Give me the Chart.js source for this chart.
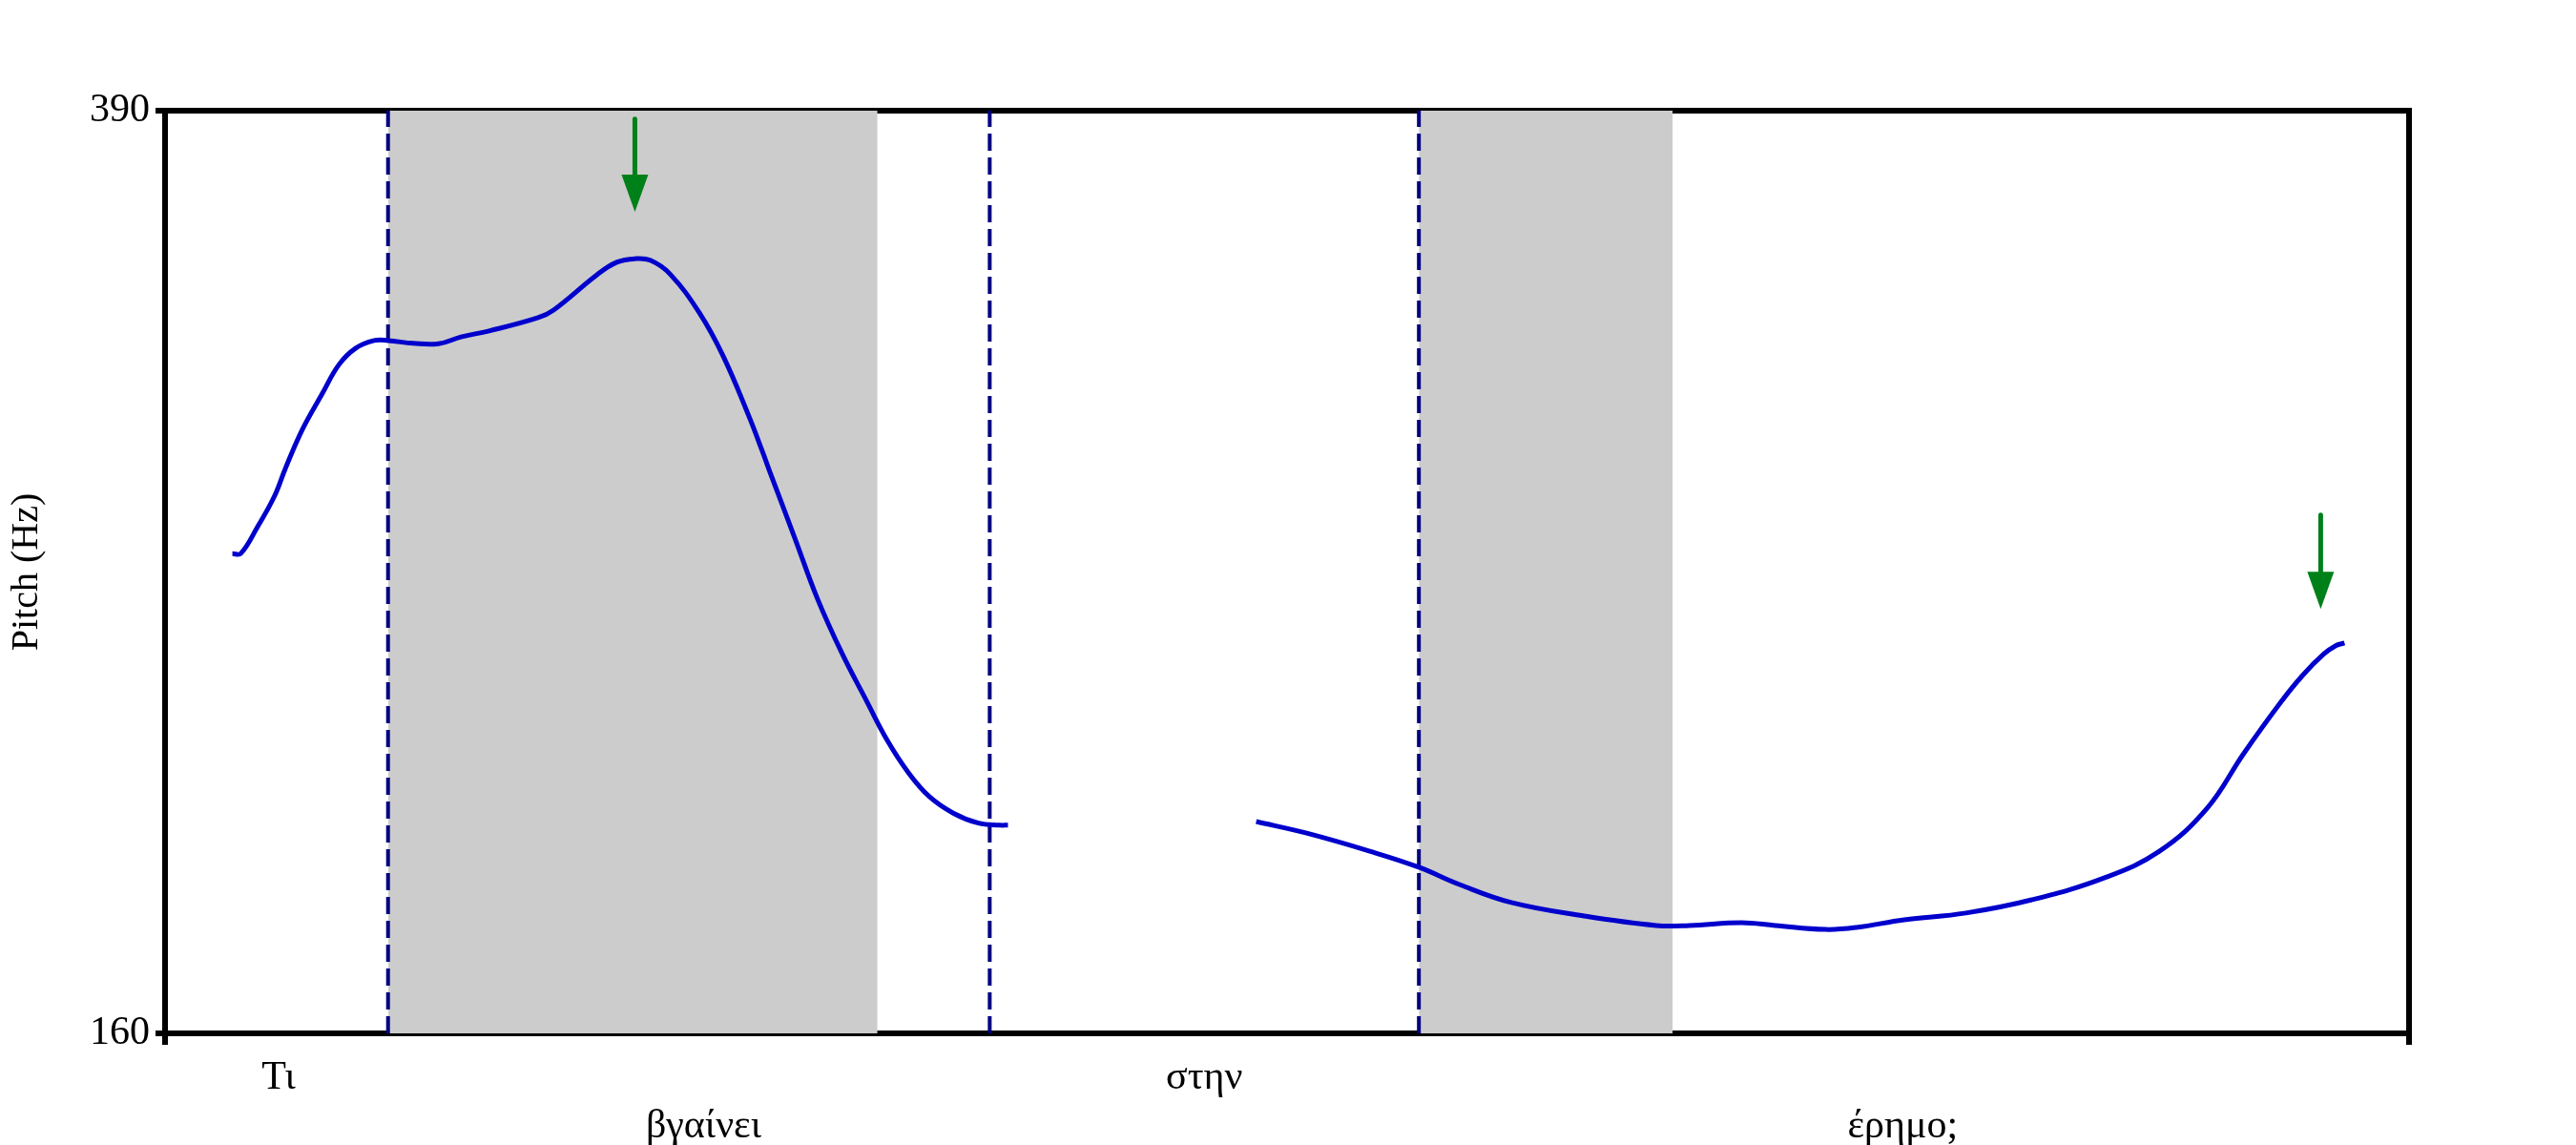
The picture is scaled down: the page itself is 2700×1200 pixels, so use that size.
<!DOCTYPE html>
<html>
<head>
<meta charset="utf-8">
<script src="https://cdn.jsdelivr.net/npm/chart.js@4"></script>
<style>
  html, body { margin: 0; padding: 0; background: #ffffff; }
  canvas { display: block; }
</style>
</head>
<body>
<canvas id="c" width="2700" height="1200"></canvas>
<script>
// ---- data (time in seconds, pitch in Hz) ----
const xMin = 0, xMax = 1.6;
const yMin = 160, yMax = 390;
const yTicks = [160, 390];

const words = ['Τι', 'βγαίνει', 'στην', 'έρημο;'];
const wordT = [0.081, 0.384, 0.741, 1.239];
const wordRow = [0, 1, 0, 1];

const boundaryT = [0.159, 0.588, 0.894];
const shadeStart = [0.159, 0.894];
const shadeEnd = [0.508, 1.075];

const pitch1T = [0.048, 0.054, 0.066, 0.078, 0.086, 0.098, 0.112, 0.124, 0.136, 0.149, 0.159, 0.177, 0.195, 0.211, 0.231, 0.266, 0.277, 0.308, 0.322, 0.335, 0.346, 0.360, 0.381, 0.398, 0.416, 0.426, 0.431, 0.449, 0.465, 0.483, 0.500, 0.515, 0.530, 0.545, 0.562, 0.580, 0.595, 0.601];
const pitch1Hz = [279.6, 279.6, 286.3, 293.9, 301.0, 310.6, 319.4, 326.7, 330.8, 332.7, 332.7, 332.0, 331.9, 333.6, 335.1, 338.4, 340.3, 349.1, 352.2, 353.1, 352.7, 349.3, 339.6, 328.8, 314.1, 305.0, 300.2, 283.5, 268.5, 254.5, 243.0, 233.0, 225.0, 219.0, 214.9, 212.4, 211.9, 211.9];

const pitch2T = [0.778, 0.814, 0.859, 0.894, 0.923, 0.960, 1.011, 1.063, 1.087, 1.124, 1.148, 1.184, 1.206, 1.240, 1.284, 1.331, 1.383, 1.422, 1.456, 1.482, 1.508, 1.524, 1.539, 1.548, 1.554];
const pitch2Hz = [212.8, 209.9, 205.4, 201.4, 197.1, 192.6, 189.3, 186.9, 186.9, 187.6, 186.9, 185.9, 186.4, 188.3, 190.0, 193.3, 198.8, 205.4, 216.1, 229.7, 242.3, 249.2, 254.5, 256.7, 257.3];

const arrowT = [0.335, 1.537];
const arrowTopHz = [387.9, 289.2];
const arrowTipHz = [364.8, 265.8];

// ---- build datasets ----
const toXY = (xs, ys) => xs.map((x, i) => ({ x: x, y: ys[i] }));

const datasets = [];
const curveStyle = {
  borderColor: '#0000cc', borderWidth: 5, pointRadius: 0,
  tension: 0.4, fill: false, order: 1,
  borderJoinStyle: 'round', borderCapStyle: 'butt'
};
datasets.push(Object.assign({ data: toXY(pitch1T, pitch1Hz) }, curveStyle));
datasets.push(Object.assign({ data: toXY(pitch2T, pitch2Hz) }, curveStyle));

boundaryT.forEach(b => {
  datasets.push({
    data: [{ x: b, y: yMin }, { x: b, y: yMax }],
    borderColor: '#000080', borderWidth: 4, borderDash: [18, 7],
    pointRadius: 0, fill: false, order: 2
  });
});

shadeStart.forEach((a, i) => {
  datasets.push({
    data: [{ x: a, y: yMax }, { x: shadeEnd[i], y: yMax }],
    borderWidth: 0, borderColor: 'rgba(0,0,0,0)',
    backgroundColor: '#cccccc', fill: 'start',
    pointRadius: 0, order: 3
  });
});

// arrows drawn through the scales
const arrowPlugin = {
  id: 'arrows',
  afterDatasetsDraw(chart) {
    const { ctx, scales: { x, y } } = chart;
    ctx.save();
    ctx.strokeStyle = '#008018';
    ctx.fillStyle = '#008018';
    ctx.lineWidth = 5;
    ctx.lineCap = 'round';
    arrowT.forEach((t, i) => {
      const px = x.getPixelForValue(t);
      const pTop = y.getPixelForValue(arrowTopHz[i]);
      const pTip = y.getPixelForValue(arrowTipHz[i]);
      const headLen = 39, halfW = 14;
      ctx.beginPath();
      ctx.moveTo(px, pTop);
      ctx.lineTo(px, pTip - headLen + 2);
      ctx.stroke();
      ctx.beginPath();
      ctx.moveTo(px - halfW, pTip - headLen);
      ctx.lineTo(px + halfW, pTip - headLen);
      ctx.lineTo(px, pTip);
      ctx.closePath();
      ctx.fill();
    });
    ctx.restore();
  }
};

const font = { family: "'Liberation Serif', 'Times New Roman', serif", size: 42 };

const chart = new Chart(document.getElementById('c'), {
  type: 'line',
  data: { datasets: datasets },
  plugins: [arrowPlugin],
  options: {
    responsive: false,
    animation: false,
    events: [],
    layout: { padding: 0 },
    plugins: { legend: { display: false }, tooltip: { enabled: false } },
    scales: {
      x: {
        type: 'linear', position: 'bottom', min: xMin, max: xMax,
        afterBuildTicks: s => { s.ticks = [xMin].concat(wordT, [xMax]).map(v => ({ value: v })); },
        afterFit: s => { s.height = 117; },
        ticks: {
          autoSkip: false, maxRotation: 0, padding: 10, color: '#000',
          font: Object.assign({ lineHeight: 1.2 }, font),
          callback: (v, i) => {
            if (i === 0 || i === wordT.length + 1) return '';
            const w = words[i - 1];
            return wordRow[i - 1] === 0 ? [w, ''] : ['', w];
          }
        },
        grid: {
          drawOnChartArea: false, tickLength: 12, tickWidth: 6, lineWidth: 6,
          color: '#000',
          tickColor: c => (c.index === 0 || c.index === wordT.length + 1) ? '#000' : 'rgba(0,0,0,0)'
        },
        border: { display: true, color: '#000', width: 6 }
      },
      y: {
        type: 'linear', position: 'left', min: yMin, max: yMax,
        afterBuildTicks: s => { s.ticks = yTicks.map(v => ({ value: v })); },
        afterFit: s => { s.width = 173; },
        ticks: { autoSkip: false, padding: 6, color: '#000', font: font },
        grid: { drawOnChartArea: false, tickLength: 10, tickWidth: 6, lineWidth: 6, color: '#000' },
        border: { display: true, color: '#000', width: 6 },
        title: { display: true, text: 'Pitch (Hz)', color: '#000', font: Object.assign({}, font, { size: 40 }), padding: { top: 4, bottom: 0 } }
      },
      x2: {
        type: 'linear', position: 'top', min: xMin, max: xMax,
        afterFit: s => { s.height = 116; },
        ticks: { display: false },
        grid: { display: false },
        border: { display: true, color: '#000', width: 6 }
      },
      y2: {
        type: 'linear', position: 'right', min: yMin, max: yMax,
        afterFit: s => { s.width = 175; },
        ticks: { display: false },
        grid: { display: false },
        border: { display: true, color: '#000', width: 6 }
      }
    }
  }
});
</script>
</body>
</html>
